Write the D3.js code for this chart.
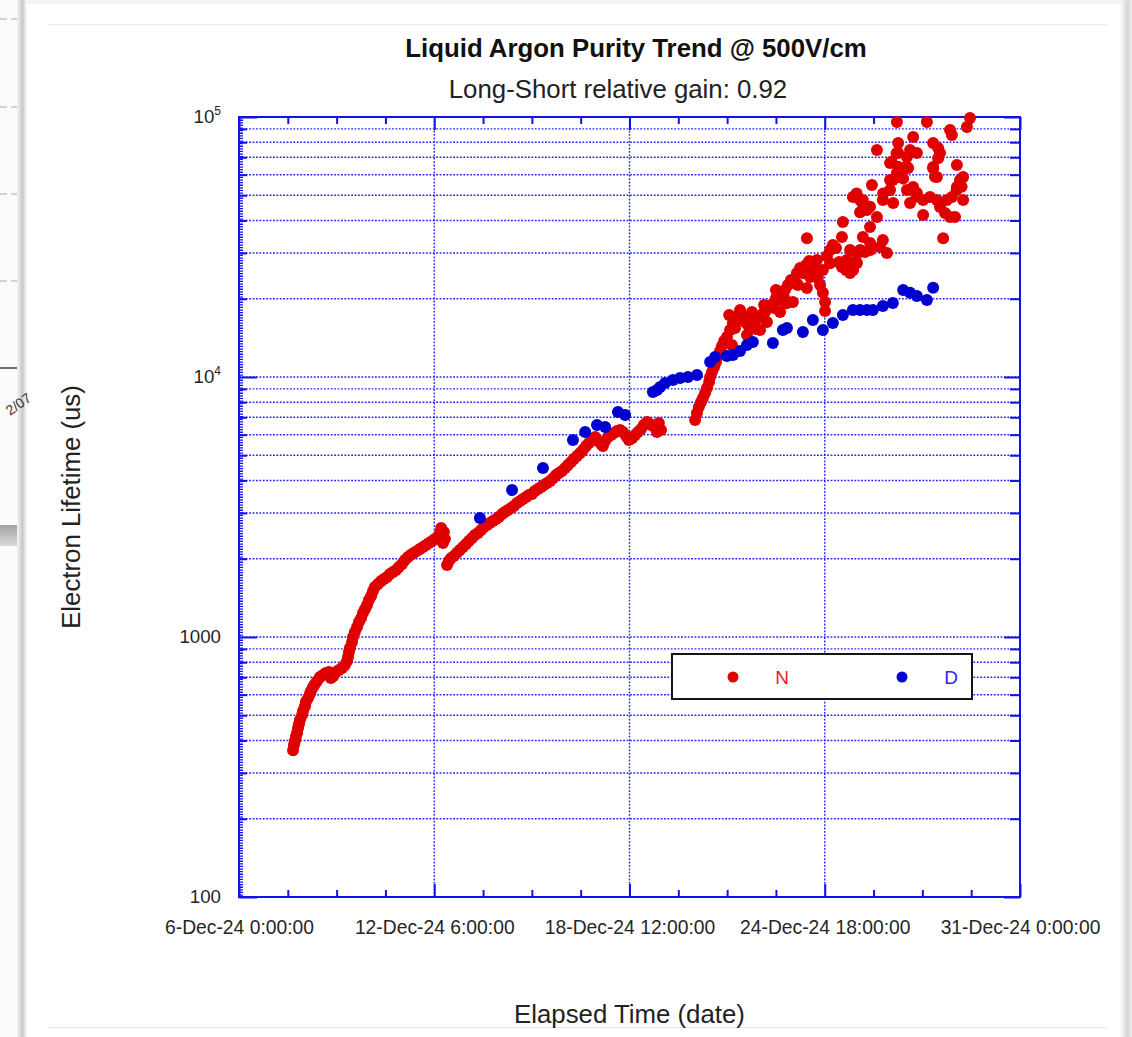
<!DOCTYPE html>
<html><head><meta charset="utf-8">
<script src="https://cdn.jsdelivr.net/npm/d3@7"></script>
<style>
html,body{margin:0;padding:0;background:#fff;overflow:hidden;}
svg{display:block;font-family:"Liberation Sans",Arial,Helvetica,sans-serif;}
</style></head><body>
<svg id="chart" width="1132" height="1037"></svg>
<script>
// ---------------- data (elapsed days since 6-Dec-24 0:00:00, lifetime in us) ----------------
const chartTitle = "Liquid Argon Purity Trend @ 500V/cm";
const chartSubtitle = "Long-Short relative gain: 0.92";
const xAxisTitle = "Elapsed Time (date)";
const yAxisTitle = "Electron Lifetime (us)";
const seriesNames = ["N", "D"];
const startDate = "2024-12-06T00:00:00";
const endDate = "2024-12-31T00:00:00";
const xMajorTicks = ["2024-12-06T00:00:00","2024-12-12T06:00:00","2024-12-18T12:00:00","2024-12-24T18:00:00","2024-12-31T00:00:00"];
const yDomain = [100, 100000];
const yLabelTicks = [100, 1000, 10000, 100000];

const nDays = [1.73,1.76,1.79,1.82,1.86,1.89,1.92,1.95,2.02,2.05,2.11,2.14,2.21,2.27,2.30,2.37,2.43,2.50,2.59,2.69,2.78,2.88,2.94,3.01,3.10,3.20,3.30,3.39,3.46,3.49,3.52,3.55,3.62,3.65,3.71,3.78,3.84,3.91,3.97,4.03,4.10,4.16,4.23,4.29,4.35,4.45,4.55,4.64,4.74,4.83,4.93,5.03,5.12,5.22,5.31,5.41,5.51,5.60,5.70,5.79,5.89,5.99,6.08,6.18,6.27,6.37,6.43,6.47,6.56,6.59,6.53,
6.66,6.72,6.79,6.88,6.98,7.07,7.17,7.27,7.36,7.46,7.55,7.65,7.75,7.84,7.94,8.03,8.13,8.23,8.32,8.42,8.51,8.61,8.71,8.80,8.90,9.00,9.09,9.19,9.28,9.38,9.47,9.57,9.67,9.76,9.86,9.96,10.05,10.15,10.24,10.34,10.44,10.53,10.63,10.72,10.82,10.92,11.01,11.11,11.20,11.30,11.40,11.49,11.59,11.65,11.72,11.81,11.91,12.00,12.10,12.20,12.29,12.39,12.48,12.58,12.68,12.77,12.87,12.96,13.06,13.16,13.25,13.35,13.44,13.51,13.38,
14.60,14.66,14.72,14.79,14.85,14.92,14.98,15.05,15.08,15.14,15.21,15.27,15.33,15.40,15.46,15.53,15.62,15.72,15.81,15.88,15.94,16.04,16.13,16.20,16.29,16.36,16.45,16.55,16.65,16.74,16.84,16.93,17.03,17.13,17.19,17.29,17.38,17.48,17.57,17.67,17.77,17.86,17.96,18.05,18.15,18.25,18.34,18.44,18.53,18.60,18.69,18.76,18.76,18.82,18.92,19.01,19.11,19.21,19.30,19.43,19.56,19.65,19.78,19.88,20.04,20.20,
15.78,16.26,16.68,16.90,17.32,17.73,18.18,15.69,16.04,16.42,16.81,17.19,17.45,17.89,
15.93,16.46,16.78,17.32,17.53,17.85,18.06,18.38,18.92,19.45,19.66,
18.18,18.28,18.50,18.69,19.30,19.33,19.56,19.78,19.97,20.20,20.42,20.61,20.74,20.52,20.20,19.65,19.88,20.10,20.26,20.61,20.84,20.93,20.84,21.06,21.26,21.38,21.58,21.70,21.90,22.12,22.34,22.44,22.60,22.76,22.92,21.90,22.54,22.66,22.82,22.98,23.18,23.08,23.18,22.98,22.22,22.34,22.22,22.44,22.38,21.58,21.70,21.48,21.10,21.10,21.38,20.42,21.06,22.02,22.76,22.82,23.30,23.40,20.84,21.16,21.42,19.97,19.88,
20.89,21.10,21.37,21.05,21.26,19.77,19.98,20.20,20.62,20.94,21.48,21.69,22.28,23.13,22.97,22.22,22.38,21.05];
const nLifetime = [367,385,398,413,428,447,463,480,501,519,542,562,582,603,619,642,659,677,701,714,727,733,695,707,733,746,760,781,809,838,875,907,956,1000,1045,1092,1141,1182,1237,1280,1327,1387,1438,1503,1557,1598,1641,1672,1702,1748,1778,1811,1859,1909,1978,2033,2070,2107,2144,2178,2218,2258,2299,2339,2380,2424,2512,2624,2533,2380,2299,
1893,1960,2014,2051,2107,2163,2218,2277,2339,2401,2468,2512,2579,2649,2697,2745,2793,2841,2893,2970,3023,3078,3133,3190,3278,3335,3391,3454,3516,3545,3641,3709,3777,3845,3914,3982,4082,4196,4271,4346,4464,4589,4709,4833,4964,5100,5236,5425,5574,5723,5875,5672,5523,5425,5672,5875,5981,6088,6194,6250,6138,5925,5723,5819,5981,6138,6304,6536,6707,6591,6475,6359,6652,6250,6138,
6830,7271,7667,8009,8295,8678,9068,9565,10000,10449,10923,11411,12040,12586,13149,13745,14260,15170,16129,15417,16560,16864,17161,16262,15848,16560,15848,15285,16864,17161,17784,18415,18929,18415,20138,20700,21241,21630,22585,23600,22986,25119,26236,25326,26968,27927,26715,25790,24010,22585,21068,19424,17947,29179,30780,32203,31328,27673,26489,25790,25119,27447,29703,30780,30226,30780,
13274,14518,15170,16262,17784,19424,21972,17331,18110,17784,18929,21630,20138,22585,
17060,15600,17585,19780,19207,22915,25040,26545,27363,28180,25790,
34205,24230,28180,25790,34536,39457,30780,27447,34536,37769,41219,33650,29980,31631,32775,49218,47950,43850,54769,47950,52360,57230,66524,60875,62500,52360,53796,50999,47950,49230,47950,45073,42710,41219,41219,41964,34205,47950,49230,53796,58750,57230,47950,65363,64202,58750,79439,72709,76018,83778,72709,74650,79439,72709,70171,74650,95627,95627,89125,85293,91537,99118,57230,58750,63646,47950,43061,
67300,64340,64340,58880,57940,50840,45890,45170,50840,46700,46700,49320,58880,53910,52360,63450,69350,72490];

const dDays = [7.71,8.74,9.73,10.69,11.08,11.46,11.72,12.13,12.36,13.25,13.38,13.48,13.64,13.89,14.12,14.37,14.66,15.08,15.24,15.62,15.81,16.04,16.26,16.45,17.09,17.41,17.54,18.05,18.37,18.69,19.01,19.33,19.65,19.88,20.10,20.29,20.61,20.93,21.26,21.48,21.70,22.02,22.22];
const dLifetime = [2866,3674,4464,5723,6138,6536,6420,7331,7144,8750,8910,9148,9487,9740,9919,10000,10183,11411,11938,12040,12153,12586,13274,13620,13509,15170,15448,14897,16560,15170,16129,17331,18110,18110,18110,18110,18751,19266,21630,21068,20505,19780,22026];

// ---------------- setup ----------------
const svg = d3.select("#chart");
const W = 1132, H = 1037;
const plot = {left: 239, right: 1020, top: 117, bottom: 897};
const AX = "#1212e6";
const RED = "#e00000", BLUE = "#0000d0";
const R = 6;

const parseT = d3.timeParse("%Y-%m-%dT%H:%M:%S");
const t0 = parseT(startDate), t1 = parseT(endDate);
const dayToDate = d => new Date(t0.getTime() + d * 86400000);

const x = d3.scaleTime().domain([t0, t1]).range([plot.left, plot.right]);
const y = d3.scaleLog().domain(yDomain).range([plot.bottom, plot.top]);

const majorDates = xMajorTicks.map(parseT);
const minorDates = [];
for (let i = 0; i < majorDates.length - 1; i++) {
  const a = majorDates[i].getTime(), b = majorDates[i + 1].getTime();
  for (let k = 1; k < 4; k++) minorDates.push(new Date(a + (b - a) * k / 4));
}
const yMinor = [];
for (let e = 2; e <= 4; e++) for (let m = 2; m <= 9; m++) yMinor.push(m * Math.pow(10, e));
const yGrid = yMinor.concat([1000, 10000]);

// ---------------- page background / card ----------------
const defs = svg.append("defs");
const g1 = defs.append("linearGradient").attr("id", "lshadow").attr("x1", 0).attr("x2", 1).attr("y1", 0).attr("y2", 0);
g1.append("stop").attr("offset", "0%").attr("stop-color", "#f6f6f6");
g1.append("stop").attr("offset", "55%").attr("stop-color", "#c9c9c9");
g1.append("stop").attr("offset", "100%").attr("stop-color", "#ffffff");
const g2 = defs.append("linearGradient").attr("id", "rshadow").attr("x1", 0).attr("x2", 1).attr("y1", 0).attr("y2", 0);
g2.append("stop").attr("offset", "0%").attr("stop-color", "#ffffff");
g2.append("stop").attr("offset", "60%").attr("stop-color", "#d6d6d6");
g2.append("stop").attr("offset", "100%").attr("stop-color", "#ececec");
const g3 = defs.append("linearGradient").attr("id", "band").attr("x1", 0).attr("x2", 0).attr("y1", 0).attr("y2", 1);
g3.append("stop").attr("offset", "0%").attr("stop-color", "#a4a4a4");
g3.append("stop").attr("offset", "100%").attr("stop-color", "#d8d8d8");

svg.append("rect").attr("width", W).attr("height", H).attr("fill", "#fff");
svg.append("rect").attr("x", 0).attr("y", 0).attr("width", 24).attr("height", H).attr("fill", "#fbfbfb");
[19, 107, 194, 281].forEach(yy => svg.append("line").attr("x1", 0).attr("x2", 24).attr("y1", yy).attr("y2", yy)
  .attr("stroke", "#a8a8a8").attr("stroke-width", 1).attr("stroke-dasharray", "7,4"));
svg.append("line").attr("x1", 0).attr("x2", 26).attr("y1", 368).attr("y2", 368).attr("stroke", "#222").attr("stroke-width", 1.3);
svg.append("rect").attr("x", 0).attr("y", 525).attr("width", 24).attr("height", 21).attr("fill", "url(#band)");
svg.append("rect").attr("x", 17).attr("y", 0).attr("width", 10).attr("height", H).attr("fill", "url(#lshadow)");
svg.append("text").attr("transform", "translate(10,416) rotate(-35)").attr("font-size", 14).attr("fill", "#333").text("2/07");
svg.append("rect").attr("x", 1120).attr("y", 0).attr("width", 12).attr("height", H).attr("fill", "url(#rshadow)");
svg.append("rect").attr("x", 27).attr("y", 0).attr("width", 1095).attr("height", 4).attr("fill", "#f2f2f2");
svg.append("line").attr("x1", 48).attr("x2", 1107).attr("y1", 24.5).attr("y2", 24.5).attr("stroke", "#ececec");
svg.append("line").attr("x1", 48).attr("x2", 1107).attr("y1", 1027.5).attr("y2", 1027.5).attr("stroke", "#e2e2e2");

// ---------------- titles ----------------
svg.append("text").attr("x", 636).attr("y", 57).attr("text-anchor", "middle").attr("font-size", 25.8)
  .attr("font-weight", "bold").attr("fill", "#111").text(chartTitle);
svg.append("text").attr("x", 618).attr("y", 98).attr("text-anchor", "middle").attr("font-size", 25.8)
  .attr("fill", "#222").text(chartSubtitle);
svg.append("text").attr("transform", `translate(80,${(plot.top + plot.bottom) / 2}) rotate(-90)`).attr("text-anchor", "middle")
  .attr("font-size", 25.8).attr("fill", "#222").text(yAxisTitle);
svg.append("text").attr("x", (plot.left + plot.right) / 2).attr("y", 1023).attr("text-anchor", "middle")
  .attr("font-size", 25.8).attr("fill", "#222").text(xAxisTitle);

// ---------------- grid ----------------
const grid = svg.append("g").attr("stroke", "#2424ff").attr("stroke-width", 1.4).attr("stroke-dasharray", "1.8,1.6");
grid.selectAll("line.h").data(yGrid).join("line").attr("class", "h")
  .attr("x1", plot.left).attr("x2", plot.right).attr("y1", d => y(d)).attr("y2", d => y(d));
grid.selectAll("line.v").data(majorDates.slice(1, -1)).join("line").attr("class", "v")
  .attr("x1", d => x(d)).attr("x2", d => x(d)).attr("y1", plot.top).attr("y2", plot.bottom);

// ---------------- axes ----------------
const fmt = d3.timeFormat("%-d-%b-%y %-H:%M:%S");
const axStyle = g => { g.select(".domain").remove(); g.selectAll("line").attr("stroke", AX).attr("stroke-width", 2); };

// bottom
svg.append("g").attr("transform", `translate(0,${plot.bottom})`)
  .call(d3.axisBottom(x).tickValues(minorDates).tickSize(-7).tickFormat("")).call(axStyle);
const bAx = svg.append("g").attr("transform", `translate(0,${plot.bottom})`)
  .call(d3.axisBottom(x).tickValues(majorDates).tickSize(-13).tickPadding(23).tickFormat(fmt)).call(axStyle);
bAx.selectAll("text").attr("font-size", 19.3).attr("fill", "#262626").attr("font-family", "Liberation Sans, Arial, sans-serif");
// top
svg.append("g").attr("transform", `translate(0,${plot.top})`)
  .call(d3.axisTop(x).tickValues(minorDates).tickSize(-7).tickFormat("")).call(axStyle);
svg.append("g").attr("transform", `translate(0,${plot.top})`)
  .call(d3.axisTop(x).tickValues(majorDates).tickSize(-13).tickFormat("")).call(axStyle);
// left
svg.append("g").attr("transform", `translate(${plot.left},0)`)
  .call(d3.axisLeft(y).tickValues(yMinor).tickSize(-8).tickFormat("")).call(axStyle);
svg.append("g").attr("transform", `translate(${plot.left},0)`)
  .call(d3.axisLeft(y).tickValues(yLabelTicks).tickSize(-18).tickFormat("")).call(axStyle);
// right
svg.append("g").attr("transform", `translate(${plot.right},0)`)
  .call(d3.axisRight(y).tickValues(yMinor).tickSize(-10).tickFormat("")).call(axStyle);
svg.append("g").attr("transform", `translate(${plot.right},0)`)
  .call(d3.axisRight(y).tickValues(yLabelTicks).tickSize(-16).tickFormat("")).call(axStyle);

// dense tiny ticks on left axis
svg.append("line").attr("x1", plot.left + 2.5).attr("x2", plot.left + 2.5).attr("y1", plot.top).attr("y2", plot.bottom)
  .attr("stroke", AX).attr("stroke-width", 3).attr("stroke-dasharray", "1.3,1.3");
// frame
svg.append("rect").attr("x", plot.left).attr("y", plot.top).attr("width", plot.right - plot.left)
  .attr("height", plot.bottom - plot.top).attr("fill", "none").attr("stroke", AX).attr("stroke-width", 2);

// y tick labels
const yl = svg.append("g").attr("font-size", 18.7).attr("fill", "#262626").attr("text-anchor", "end");
yLabelTicks.forEach(v => {
  const e = Math.round(Math.log10(v));
  const t = yl.append("text").attr("x", 221).attr("y", y(v) + 6);
  if (e >= 4) {
    t.append("tspan").text("10");
    t.append("tspan").attr("font-size", 12).attr("dy", -8).text(String(e));
  } else {
    t.text(String(v));
  }
});

// ---------------- points ----------------
const nData = nDays.map((d, i) => ({t: dayToDate(d), v: nLifetime[i]}));
const dData = dDays.map((d, i) => ({t: dayToDate(d), v: dLifetime[i]}));
svg.append("g").selectAll("circle").data(nData).join("circle")
  .attr("cx", d => x(d.t)).attr("cy", d => y(d.v)).attr("r", R).attr("fill", RED);
svg.append("g").selectAll("circle").data(dData).join("circle")
  .attr("cx", d => x(d.t)).attr("cy", d => y(d.v)).attr("r", R).attr("fill", BLUE);

// ---------------- legend ----------------
const lg = svg.append("g");
lg.append("rect").attr("x", 672).attr("y", 654).attr("width", 300).attr("height", 45)
  .attr("fill", "#fff").attr("stroke", "#151515").attr("stroke-width", 2);
const legendItems = [{name: seriesNames[0], c: RED, cx: 733, tx: 782}, {name: seriesNames[1], c: BLUE, cx: 902, tx: 951}];
legendItems.forEach(it => {
  lg.append("circle").attr("cx", it.cx).attr("cy", 677).attr("r", 5.5).attr("fill", it.c);
  lg.append("text").attr("x", it.tx).attr("y", 684).attr("text-anchor", "middle").attr("font-size", 19)
    .attr("fill", it.c === RED ? "#ee1c1c" : "#2a2af0").text(it.name);
});
</script>
</body></html>
